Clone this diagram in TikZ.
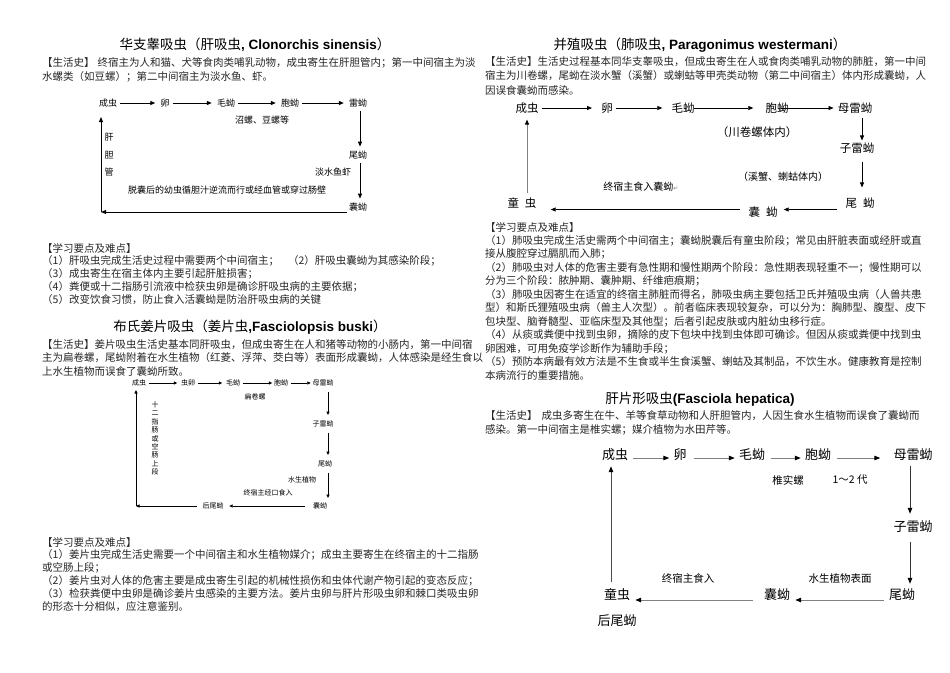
\documentclass[tikz,border=0pt]{standalone}
\usepackage{fontspec}
\setmainfont{Noto Sans CJK SC}
\newfontfamily\latf{Liberation Sans}
\newfontfamily\symf{DejaVu Sans}
\usetikzlibrary{arrows.meta}
\tikzset{
 body/.style={anchor=west, inner sep=0pt, text=black!85, font=\fontsize{10.5}{12}\selectfont},
 ttl/.style={inner sep=0pt, font=\fontsize{13.5}{16}\selectfont},
 l1/.style={inner sep=2pt, font=\fontsize{9}{10}\selectfont},
 l2/.style={inner sep=1.5pt, font=\fontsize{7}{8}\selectfont},
 l3/.style={inner sep=2pt, font=\fontsize{11.5}{13}\selectfont},
 l3s/.style={inner sep=0pt, font=\fontsize{10}{12}\selectfont},
 l4/.style={inner sep=3pt, font=\fontsize{13}{15}\selectfont},
 l4s/.style={inner sep=0pt, font=\fontsize{10.5}{12}\selectfont},
 a1/.style={-{Triangle[length=5pt,width=4pt]}, line width=1pt},
 a2/.style={-{Triangle[length=3.5pt,width=3pt]}, line width=0.7pt},
 a3/.style={-{Triangle[length=5pt,width=4pt]}, line width=0.7pt},
 a3g/.style={draw=black!50, -{Triangle[length=5pt,width=4pt,color=black]}, line width=0.9pt},
 a4/.style={draw=black!50, -{Triangle[length=6pt,width=4.5pt,color=black]}, line width=1pt},
}
\begin{document}
\begin{tikzpicture}[x=1pt,y=-1pt]
\useasboundingbox[fill=white] (0,0) rectangle (950,672);

% ================= LEFT COLUMN =================
\node[ttl] (T1) at (255,45) {华支睾吸虫（肝吸虫{\latf\bfseries, Clonorchis sinensis}）};
\node[body] (p1a) at (42,63) {【生活史】\hspace{3pt}终宿主为人和猫、犬等食肉类哺乳动物，成虫寄生在肝胆管内；第一中间宿主为淡};
\node[body] (p1b) at (42,77) {水螺类（如豆螺）；第二中间宿主为淡水鱼、虾。};

% diagram 1
\node[l1] (A1) at (108,103) {成虫};
\node[l1] (B1) at (165,103) {卵};
\node[l1] (C1) at (226,103) {毛蚴};
\node[l1] (D1) at (290,103) {胞蚴};
\node[l1] (E1) at (358,103) {雷蚴};
\node[l1] (F1) at (358,155) {尾蚴};
\node[l1] (G1) at (358,207) {囊蚴};
\coordinate (K1) at (101,212);
\coordinate (K1t) at (101,117);
\draw[a1, shorten <=1pt, shorten >=3pt] (A1) -- (B1);
\draw[a1, shorten <=1pt, shorten >=3pt] (B1) -- (C1);
\draw[a1, shorten <=1pt, shorten >=3pt] (C1) -- (D1);
\draw[a1, shorten <=1pt, shorten >=3pt] (D1) -- (E1);
\draw[a1, shorten <=2pt, shorten >=2pt] ([xshift=2pt]E1.south) -- ([xshift=2pt]F1.north);
\draw[a1, shorten <=2pt, shorten >=2pt] ([xshift=2pt]F1.south) -- ([xshift=2pt]G1.north);
\draw[a1] (G1.west |- K1) -- (K1);
\draw[a1] (K1) -- (K1t);
\node[l1] (n1a) at (262,120) {沼螺、豆螺等};
\node[l1] (n1b) at (333,172) {淡水鱼虾};
\node[l1] (n1c) at (109,137) {肝};
\node[l1] (n1d) at (109,155) {胆};
\node[l1] (n1e) at (109,172) {管};
\node[l1] (n1f) at (227,190) {脱囊后的幼虫循胆汁逆流而行或经血管或穿过肠壁};

% notes 1
\node[body] (q1a) at (42,248) {【学习要点及难点】};
\node[body] (q1b) at (42,261) {（1）肝吸虫完成生活史过程中需要两个中间宿主；\hspace{9pt}（2）肝吸虫囊蚴为其感染阶段；};
\node[body] (q1c) at (42,274) {（3）成虫寄生在宿主体内主要引起肝脏损害；};
\node[body] (q1d) at (42,287) {（4）粪便或十二指肠引流液中检获虫卵是确诊肝吸虫病的主要依据；};
\node[body] (q1e) at (42,300) {（5）改变饮食习惯，防止食入活囊蚴是防治肝吸虫病的关键};

% title 2
\node[ttl] (T2) at (250,327) {布氏姜片吸虫（姜片虫{\latf\bfseries,Fasciolopsis buski}）};
\node[body] (p2a) at (42,345) {【生活史】姜片吸虫生活史基本同肝吸虫，但成虫寄生在人和猪等动物的小肠内，第一中间宿};
\node[body] (p2b) at (42,358) {主为扁卷螺，尾蚴附着在水生植物（红菱、浮萍、茭白等）表面形成囊蚴，人体感染是经生食以};
\node[body] (p2c) at (42,371) {上水生植物而误食了囊蚴所致。};

% diagram 2
\node[l2] (A2) at (139,383) {成虫};
\node[l2] (B2) at (188,383) {虫卵};
\node[l2] (C2) at (233,383) {毛蚴};
\node[l2] (D2) at (281,383) {胞蚴};
\node[l2] (E2) at (323,383) {母雷蚴};
\node[l2] (F2) at (323,424) {子雷蚴};
\node[l2] (G2) at (325,464) {尾蚴};
\node[l2] (H2) at (320,506) {囊蚴};
\node[l2] (I2) at (213,506) {后尾蚴};
\coordinate (v2) at (328,0);
\coordinate (K2) at (136,506);
\coordinate (K2t) at (136,390);
\draw[a2, shorten <=1pt, shorten >=2pt] (A2) -- (B2);
\draw[a2, shorten <=1pt, shorten >=2pt] (B2) -- (C2);
\draw[a2, shorten <=1pt, shorten >=0pt] (C2) -- (D2);
\draw[a2, shorten <=1pt, shorten >=0pt] (D2) -- (E2);
\draw[a2, shorten <=4pt, shorten >=4pt] (E2.south -| v2) -- (F2.north -| v2);
\draw[a2, shorten <=4pt, shorten >=4pt] (F2.south -| v2) -- (G2.north -| v2);
\draw[a2, shorten <=4pt, shorten >=3pt] (G2.south -| v2) -- (H2.north -| v2);
\draw[a2, shorten <=6pt, shorten >=4pt] (H2) -- (I2);
\draw[a2, shorten <=4pt] (I2.west) -- (K2);
\draw[a2] (K2) -- (K2t);
\node[l2] (n2a) at (255,397) {扁卷螺};
\node[l2] (n2b) at (302,480) {水生植物};
\node[l2] (n2c) at (268,493) {终宿主经口食入};
\node[inner sep=0pt, align=center, font=\fontsize{7}{8.4}\selectfont] (n2d) at (155,438.5) {十\\二\\指\\肠\\或\\空\\肠\\上\\段};

% notes 2
\node[body] (q2a) at (42,542) {【学习要点及难点】};
\node[body] (q2b) at (42,555) {（1）姜片虫完成生活史需要一个中间宿主和水生植物媒介；成虫主要寄生在终宿主的十二指肠};
\node[body] (q2c) at (42,568) {或空肠上段；};
\node[body] (q2d) at (42,581) {（2）姜片虫对人体的危害主要是成虫寄生引起的机械性损伤和虫体代谢产物引起的变态反应；};
\node[body] (q2e) at (42,594) {（3）检获粪便中虫卵是确诊姜片虫感染的主要方法。姜片虫卵与肝片形吸虫卵和棘口类吸虫卵};
\node[body] (q2f) at (42,607) {的形态十分相似，应注意鉴别。};

% ================= RIGHT COLUMN =================
\node[ttl] (T3) at (700,45) {并殖吸虫（肺吸虫{\latf\bfseries, Paragonimus westermani}）};
\node[body] (p3a) at (485,62) {【生活史】生活史过程基本同华支睾吸虫，但成虫寄生在人或食肉类哺乳动物的肺脏，第一中间};
\node[body] (p3b) at (485,76) {宿主为川卷螺，尾蚴在淡水蟹（溪蟹）或蝲蛄等甲壳类动物（第二中间宿主）体内形成囊蚴，人};
\node[body] (p3c) at (485,90) {因误食囊蚴而感染。};

% diagram 3
\node[l3] (A3) at (527,108) {成虫};
\node[l3] (B3) at (607,108) {卵};
\node[l3] (C3) at (683,108) {毛蚴};
\node[l3] (D3) at (777,108) {胞蚴};
\node[l3] (E3) at (855,108) {母雷蚴};
\node[l3] (F3) at (857,148) {子雷蚴};
\node[l3] (G3) at (860,203) {尾\hspace{6pt}蚴};
\node[l3] (H3) at (763,212) {囊\hspace{6pt}蚴};
\node[l3] (I3) at (522,203) {童\hspace{6pt}虫};
\coordinate (r3) at (0,209.5);
\coordinate (v3) at (862,0);
\draw[a3, shorten <=1pt, shorten >=7pt] (A3) -- (B3);
\draw[a3, shorten <=1pt, shorten >=7pt] (B3) -- (C3);
\draw[a3, shorten <=-3pt, shorten >=10pt] (C3) -- (D3);
\draw[a3, shorten <=-10pt, shorten >=2pt] (D3) -- (E3);
\draw[a3, shorten <=2pt, shorten >=0pt] (E3.south -| v3) -- (F3.north -| v3);
\draw[a3, shorten <=6pt, shorten >=8pt] (F3.south -| v3) -- (G3.north -| v3);
\draw[a3, shorten <=6pt, shorten >=4pt] (G3.west |- r3) -- (H3.east |- r3);
\draw[a3, shorten <=6pt, shorten >=12pt] (H3.west |- r3) -- (I3.east |- r3);
\draw[a3g, shorten <=2pt, shorten >=4pt] (A3.south |- I3.north) -- (A3.south);
\node[l3] (n3a) at (757,132) {（川卷螺体内）};
\node[l3s] (n3b) at (783,177) {（溪蟹、蝲蛄体内）};
\node[l3s] (n3c) at (641,187) {终宿主食入囊蚴{\symf\fontsize{6}{7}\selectfont\color{black!50}↵}};

% notes 3
\node[body] (q3a) at (485,227) {【学习要点及难点】};
\node[body] (q3b) at (485,240.5) {（1）肺吸虫完成生活史需两个中间宿主；囊蚴脱囊后有童虫阶段；常见由肝脏表面或经肝或直};
\node[body] (q3c) at (485,254) {接从腹腔穿过膈肌而入肺；};
\node[body] (q3d) at (485,267.5) {（2）肺吸虫对人体的危害主要有急性期和慢性期两个阶段：急性期表现轻重不一；慢性期可以};
\node[body] (q3e) at (485,281) {分为三个阶段：脓肿期、囊肿期、纤维疤痕期；};
\node[body] (q3f) at (485,294.5) {（3）肺吸虫因寄生在适宜的终宿主肺脏而得名，肺吸虫病主要包括卫氏并殖吸虫病（人兽共患};
\node[body] (q3g) at (485,308) {型）和斯氏狸殖吸虫病（兽主人次型）。前者临床表现较复杂，可以分为：胸肺型、腹型、皮下};
\node[body] (q3h) at (485,321.5) {包块型、脑脊髓型、亚临床型及其他型；后者引起皮肤或内脏幼虫移行症。};
\node[body] (q3i) at (485,335) {（4）从痰或粪便中找到虫卵，摘除的皮下包块中找到虫体即可确诊。但因从痰或粪便中找到虫};
\node[body] (q3j) at (485,348.5) {卵困难，可用免疫学诊断作为辅助手段；};
\node[body] (q3k) at (485,362) {（5）预防本病最有效方法是不生食或半生食溪蟹、蝲蛄及其制品，不饮生水。健康教育是控制};
\node[body] (q3l) at (485,375.5) {本病流行的重要措施。};

% title 4
\node[ttl] (T4) at (700,399) {肝片形吸虫{\latf\bfseries(Fasciola hepatica)}};
\node[body] (p4a) at (485,416) {【生活史】\hspace{4pt}成虫多寄生在牛、羊等食草动物和人肝胆管内，人因生食水生植物而误食了囊蚴而};
\node[body] (p4b) at (485,430) {感染。第一中间宿主是椎实螺；媒介植物为水田芹等。};

% diagram 4
\node[l4] (A4) at (615,455) {成虫};
\node[l4] (B4) at (680,455) {卵};
\node[l4] (C4) at (752,455) {毛蚴};
\node[l4] (D4) at (818,455) {胞蚴};
\node[l4] (E4) at (913,455) {母雷蚴};
\node[l4] (F4) at (913,527) {子雷蚴};
\node[l4] (G4) at (902,595) {尾蚴};
\node[l4] (H4) at (777,595) {囊蚴};
\node[l4] (I4) at (617,595) {童虫};
\node[l4] (J4) at (617,621) {后尾蚴};
\coordinate (r4a) at (0,458);
\coordinate (r4b) at (0,600);
\coordinate (v4) at (910,0);
\coordinate (w4) at (611,0);
\draw[a4, shorten <=2pt, shorten >=1pt] (A4.east |- r4a) -- (B4.west |- r4a);
\draw[a4, shorten <=4pt, shorten >=1pt] (B4.east |- r4a) -- (C4.west |- r4a);
\draw[a4, shorten <=3pt, shorten >=1pt] (C4.east |- r4a) -- (D4.west |- r4a);
\draw[a4, shorten <=3pt, shorten >=10pt] (D4.east |- r4a) -- (E4.west |- r4a);
\draw[a4, draw=black!80, shorten <=2pt, shorten >=4pt] (E4.south -| v4) -- (F4.north -| v4);
\draw[a4, draw=black!80, shorten <=6pt, shorten >=2pt] (F4.south -| v4) -- (G4.north -| v4);
\draw[a4, shorten <=2pt, shorten >=2pt] (G4.west |- r4b) -- (H4.east |- r4b);
\draw[a4, shorten <=8pt, shorten >=2pt] (H4.west |- r4b) -- (I4.east |- r4b);
\draw[a4, draw=black!70, shorten <=4pt, shorten >=2pt] (I4.north -| w4) -- (A4.south -| w4);
\node[l4s] (n4a) at (788,480) {椎实螺};
\node[l4s] (n4b) at (850,480) {1～2 代};
\node[l4s] (n4c) at (840,578) {水生植物表面};
\node[l4s] (n4d) at (688,578) {终宿主食入};
\end{tikzpicture}
\end{document}
